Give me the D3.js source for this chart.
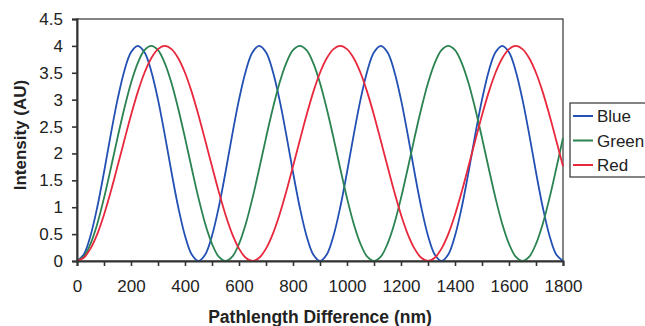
<!DOCTYPE html>
<html>
<head>
<meta charset="utf-8">
<script src="https://cdn.jsdelivr.net/npm/d3@7"></script>
<style>
body { margin: 0; background: #fff; }
svg { font-family: "Liberation Sans", Arial, sans-serif; }
</style>
</head>
<body>
<svg></svg>
<script>
// pathlength difference samples (nm), every 25 nm
var xValues = d3.range(0, 1801, 25);

// intensity at each x sample
var blue = [0,0.12,0.47,1,1.65,2.35,3,3.53,3.88,4,3.88,3.53,3,2.35,1.65,1,0.47,0.12,
  0,0.12,0.47,1,1.65,2.35,3,3.53,3.88,4,3.88,3.53,3,2.35,1.65,1,0.47,0.12,
  0,0.12,0.47,1,1.65,2.35,3,3.53,3.88,4,3.88,3.53,3,2.35,1.65,1,0.47,0.12,
  0,0.12,0.47,1,1.65,2.35,3,3.53,3.88,4,3.88,3.53,3,2.35,1.65,1,0.47,0.12,0];
var green = [0,0.08,0.32,0.69,1.17,1.72,2.29,2.83,3.31,3.68,3.92,4,3.92,3.68,3.31,2.83,2.29,1.72,1.17,0.69,0.32,0.08,
  0,0.08,0.32,0.69,1.17,1.72,2.29,2.83,3.31,3.68,3.92,4,3.92,3.68,3.31,2.83,2.29,1.72,1.17,0.69,0.32,0.08,
  0,0.08,0.32,0.69,1.17,1.72,2.29,2.83,3.31,3.68,3.92,4,3.92,3.68,3.31,2.83,2.29,1.72,1.17,0.69,0.32,0.08,
  0,0.08,0.32,0.69,1.17,1.72,2.29];
var red = [0,0.06,0.23,0.5,0.86,1.29,1.76,2.24,2.71,3.14,3.5,3.77,3.94,4,3.94,3.77,3.5,3.14,2.71,2.24,1.76,1.29,0.86,0.5,0.23,0.06,
  0,0.06,0.23,0.5,0.86,1.29,1.76,2.24,2.71,3.14,3.5,3.77,3.94,4,3.94,3.77,3.5,3.14,2.71,2.24,1.76,1.29,0.86,0.5,0.23,0.06,
  0,0.06,0.23,0.5,0.86,1.29,1.76,2.24,2.71,3.14,3.5,3.77,3.94,4,3.94,3.77,3.5,3.14,2.71,2.24,1.76];

var seriesNames = ["Blue", "Green", "Red"];
var seriesColors = ["#2250b4", "#2a8350", "#e8283c"];
var xTicks = d3.range(0, 1801, 200);
var xMinorTicks = d3.range(0, 1801, 100);
var yTicks = d3.range(0, 4.51, 0.5);

var svgWidth = 645, svgHeight = 326;
var plotLeft = 77, plotTop = 19, plotRight = 563, plotBottom = 261;

var svg = d3.select("svg")
    .attr("width", svgWidth)
    .attr("height", svgHeight);

var xScale = d3.scaleLinear().domain([0, 1800]).range([plotLeft, plotRight]);
var yScale = d3.scaleLinear().domain([0, 4.5]).range([plotBottom, plotTop]);

// frame
svg.append("rect")
    .attr("x", plotLeft).attr("y", plotTop)
    .attr("width", plotRight - plotLeft).attr("height", plotBottom - plotTop)
    .attr("fill", "none").attr("stroke", "#333").attr("stroke-width", 1.2);

// curves
var line = d3.line()
    .x(function(d) { return xScale(d[0]); })
    .y(function(d) { return yScale(d[1]); })
    .curve(d3.curveCatmullRom);

[blue, green, red].forEach(function(vals, i) {
    svg.append("path")
        .datum(vals.map(function(v, j) { return [xValues[j], v]; }))
        .attr("d", line)
        .attr("fill", "none")
        .attr("stroke", seriesColors[i])
        .attr("stroke-width", 1.8);
});

// axes
var xAxis = svg.append("g")
    .attr("transform", "translate(0," + plotBottom + ")")
    .call(d3.axisBottom(xScale).tickValues(xMinorTicks).tickSize(5).tickPadding(14)
        .tickFormat(function(d) { return xTicks.indexOf(d) >= 0 ? d : ""; }));

var yAxis = svg.append("g")
    .attr("transform", "translate(" + plotLeft + ",0)")
    .call(d3.axisLeft(yScale).tickValues(yTicks).tickSize(5).tickPadding(9)
        .tickFormat(function(d) { return d; }));

[xAxis, yAxis].forEach(function(g) {
    g.select(".domain").attr("stroke", "#333").attr("stroke-width", 2);
    g.selectAll(".tick line").attr("stroke", "#333").attr("stroke-width", 1.6);
    g.selectAll("text").attr("font-size", 17).attr("fill", "#222")
        .attr("font-family", "Liberation Sans, Arial, sans-serif");
});

// titles
svg.append("text")
    .attr("x", 320).attr("y", 323)
    .attr("text-anchor", "middle")
    .attr("font-size", 17.5).attr("font-weight", "bold").attr("fill", "#222")
    .text("Pathlength Difference (nm)");

svg.append("text")
    .attr("transform", "translate(26,135) rotate(-90)")
    .attr("text-anchor", "middle")
    .attr("font-size", 17).attr("font-weight", "bold").attr("fill", "#222")
    .text("Intensity (AU)");

// legend
var legend = svg.append("g").attr("transform", "translate(570,103)");
legend.append("rect")
    .attr("width", 80).attr("height", 74)
    .attr("fill", "#fff").attr("stroke", "#333").attr("stroke-width", 1.2);

seriesNames.forEach(function(name, i) {
    var y = 13 + i * 24.5;
    legend.append("line")
        .attr("x1", 3).attr("x2", 23).attr("y1", y).attr("y2", y)
        .attr("stroke", seriesColors[i]).attr("stroke-width", 2);
    legend.append("text")
        .attr("x", 27).attr("y", y + 6)
        .attr("font-size", 17).attr("fill", "#222")
        .text(name);
});
</script>
</body>
</html>
